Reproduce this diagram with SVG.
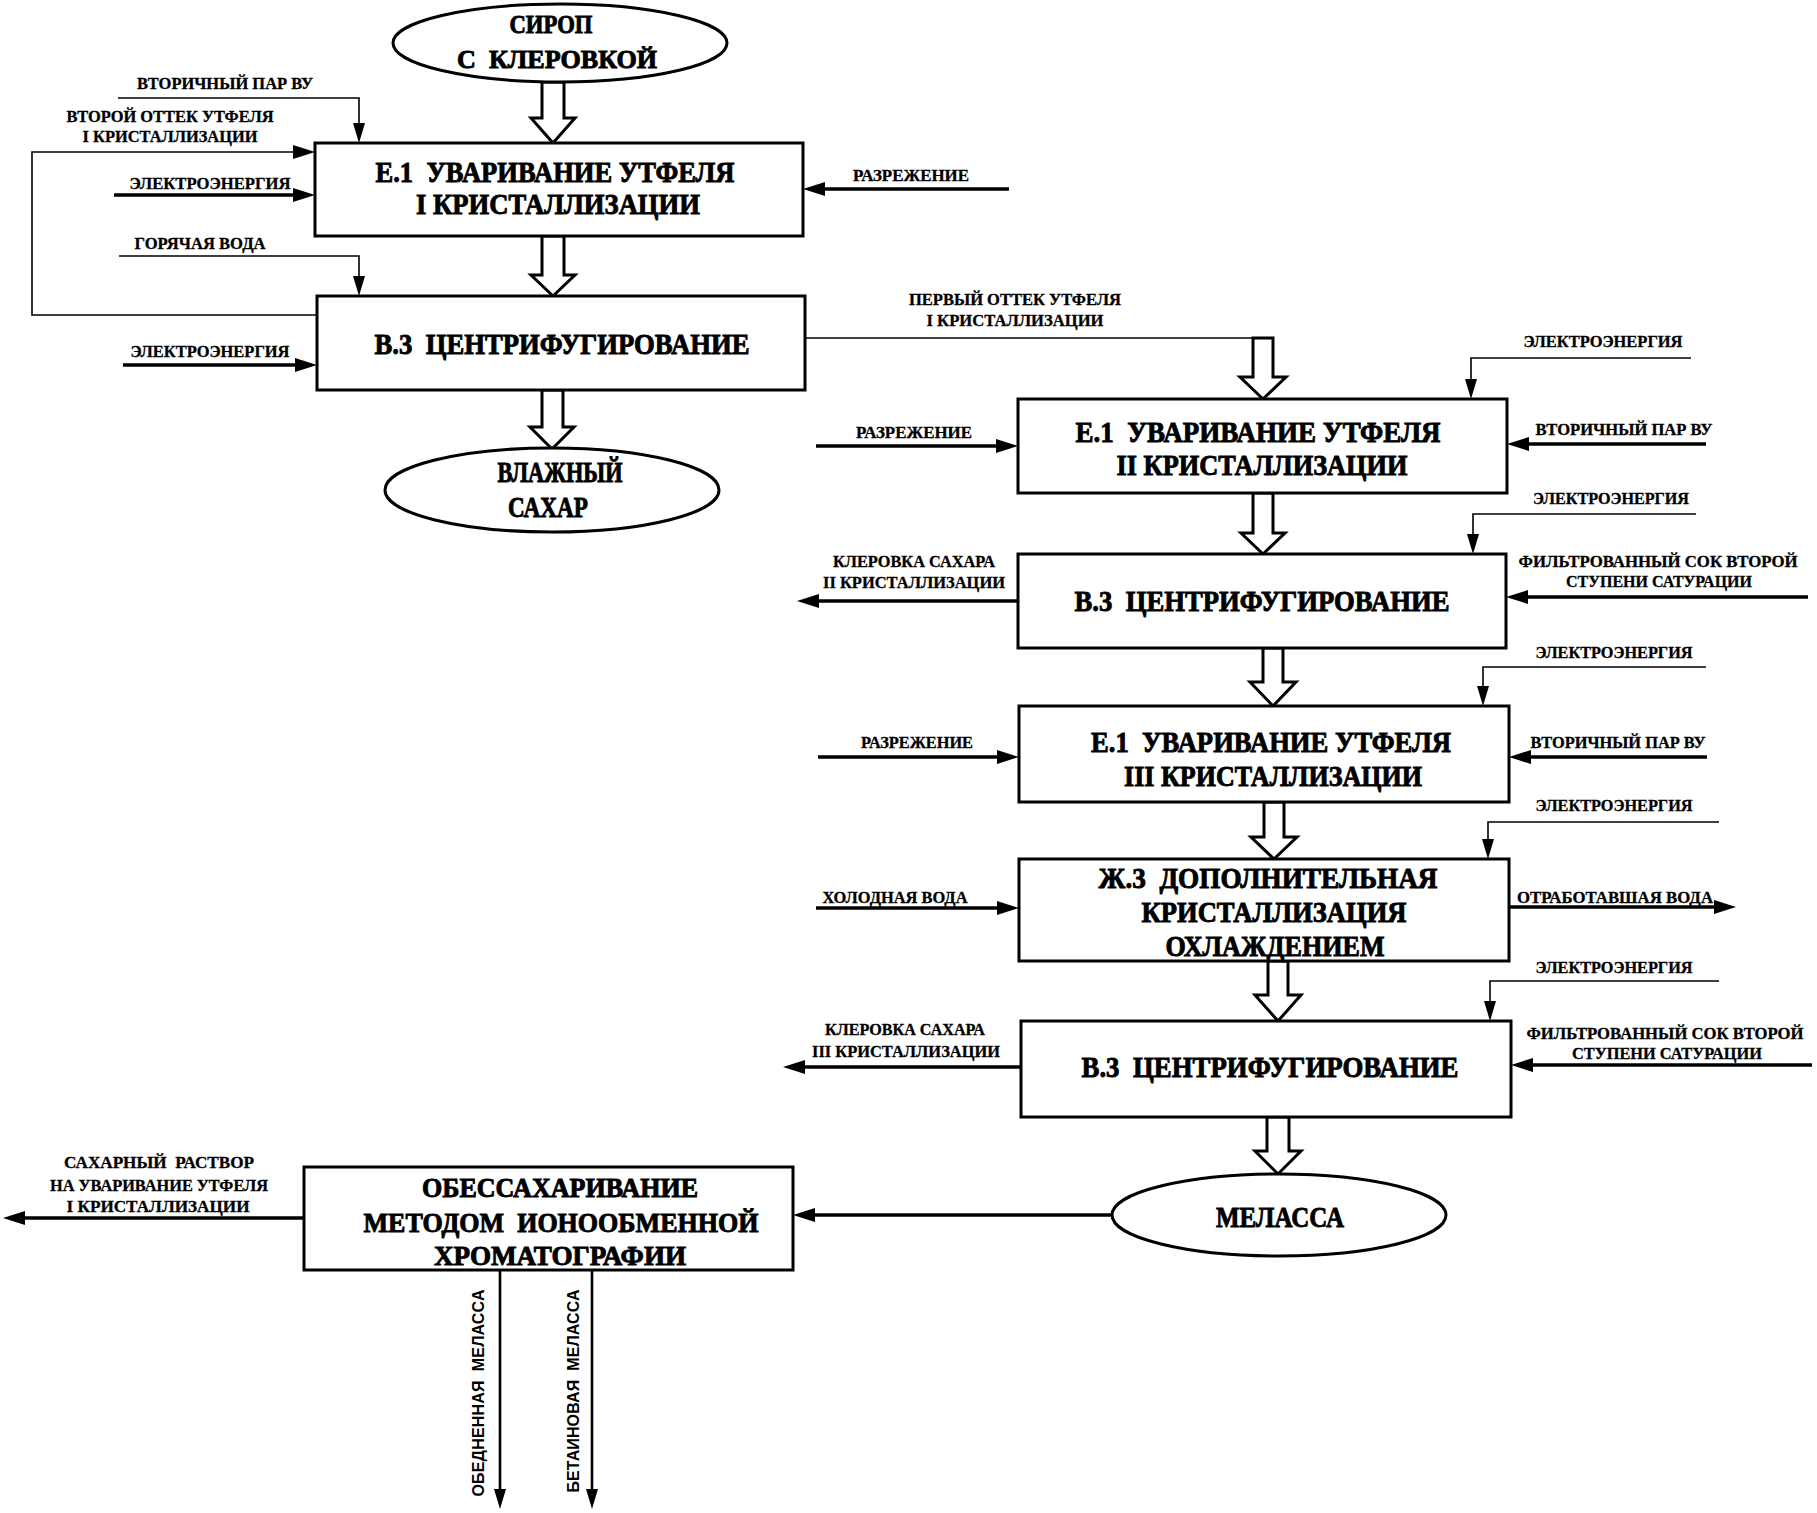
<svg xmlns="http://www.w3.org/2000/svg" width="1817" height="1513" viewBox="0 0 1817 1513" xml:space="preserve">
<style>
.box{fill:#fff;stroke:#000;stroke-width:3}
.big{font-family:"Liberation Serif","DejaVu Serif",serif;font-weight:bold;font-size:29px;text-anchor:middle;fill:#000;stroke:#000;stroke-width:0.9;white-space:pre}
.lbl{font-family:"Liberation Serif","DejaVu Serif",serif;font-weight:bold;font-size:16px;text-anchor:middle;fill:#000;stroke:#000;stroke-width:0.3;white-space:pre}
.rot{font-family:"Liberation Sans","DejaVu Sans",sans-serif;font-weight:bold;font-size:16px;text-anchor:middle;fill:#000;white-space:pre}
.thin{fill:none;stroke:#000;stroke-width:1.6}
.thick{fill:none;stroke:#000;stroke-width:3.5}
.hollow{fill:#fff;stroke:#000;stroke-width:3;stroke-linejoin:miter}
</style>
<defs>
<marker id="ah" viewBox="0 0 22 14" refX="14" refY="7" markerWidth="22" markerHeight="14" markerUnits="userSpaceOnUse" orient="auto"><path d="M0,0 L22,7 L0,14 z" fill="#000"/></marker>
<marker id="ahs" viewBox="0 0 20 12" refX="12" refY="6" markerWidth="20" markerHeight="12" markerUnits="userSpaceOnUse" orient="auto"><path d="M0,0 L20,6 L0,12 z" fill="#000"/></marker>
</defs>
<rect x="0" y="0" width="1817" height="1513" fill="#fff"/>
<g id="connectors">
<path class="hollow" d="M542,82 V118 H531 L553,143 L575,118 H564 V82 Z"/>
<path class="hollow" d="M542,236 V275 H531 L553,296 L575,275 H564 V236 Z"/>
<path class="hollow" d="M542,390 V427 H530 L552,449 L574,427 H563 V390 Z"/>
<path class="thin" d="M118,98 H359 V135" marker-end="url(#ahs)"/>
<path class="thin" d="M317,315 H32 V152 H307" marker-end="url(#ah)"/>
<path class="thick" d="M114,195 H307" marker-end="url(#ah)"/>
<path class="thin" d="M119,256 H359 V288" marker-end="url(#ahs)"/>
<path class="thick" d="M123,365 H309" marker-end="url(#ah)"/>
<path class="thick" d="M1009,189 H811" marker-end="url(#ah)"/>
<path class="thin" d="M805,338 H1253"/>
<path class="hollow" d="M1253,338 V377 H1240 L1263,399 L1286,377 H1273 V338 Z"/>
<path class="thin" d="M1691,358 H1471 V391" marker-end="url(#ahs)"/>
<path class="thick" d="M816,446 H1010" marker-end="url(#ah)"/>
<path class="thick" d="M1706,444 H1515" marker-end="url(#ah)"/>
<path class="hollow" d="M1253,493 V533 H1241 L1263,554 L1285,533 H1273 V493 Z"/>
<path class="thin" d="M1696,514 H1473 V546" marker-end="url(#ahs)"/>
<path class="thick" d="M1808,597 H1514" marker-end="url(#ah)"/>
<path class="thick" d="M1018,601 H805" marker-end="url(#ah)"/>
<path class="hollow" d="M1263,648 V682 H1250 L1273,706 L1296,682 H1283 V648 Z"/>
<path class="thin" d="M1706,667 H1483 V698" marker-end="url(#ahs)"/>
<path class="thick" d="M818,757 H1011" marker-end="url(#ah)"/>
<path class="thick" d="M1707,757 H1517" marker-end="url(#ah)"/>
<path class="hollow" d="M1264,802 V837 H1251 L1274,859 L1297,837 H1284 V802 Z"/>
<path class="thin" d="M1719,822 H1488 V851" marker-end="url(#ahs)"/>
<path class="thick" d="M816,908 H1011" marker-end="url(#ah)"/>
<path class="thick" d="M1509,907 H1728" marker-end="url(#ah)"/>
<path class="hollow" d="M1268,961 V995 H1255 L1278,1021 L1301,995 H1288 V961 Z"/>
<path class="thin" d="M1719,981 H1490 V1013" marker-end="url(#ahs)"/>
<path class="thick" d="M1812,1065 H1519" marker-end="url(#ah)"/>
<path class="thick" d="M1021,1067 H791" marker-end="url(#ah)"/>
<path class="hollow" d="M1267,1117 V1151 H1255 L1278,1174 L1301,1151 H1289 V1117 Z"/>
<path class="thick" d="M1112,1215 H801" marker-end="url(#ah)"/>
<path class="thick" d="M304,1218 H11" marker-end="url(#ah)"/>
<path class="thick" d="M500,1270 V1501" style="stroke-width:2.6" marker-end="url(#ahs)"/>
<path class="thick" d="M592,1270 V1501" style="stroke-width:2.6" marker-end="url(#ahs)"/>
</g>
<g id="labels">
<text class="lbl" x="225" y="89" textLength="176" lengthAdjust="spacingAndGlyphs">ВТОРИЧНЫЙ ПАР ВУ</text>
<text class="lbl" x="170" y="122" textLength="207" lengthAdjust="spacingAndGlyphs">ВТОРОЙ ОТТЕК УТФЕЛЯ</text>
<text class="lbl" x="170" y="142" textLength="175" lengthAdjust="spacingAndGlyphs">I КРИСТАЛЛИЗАЦИИ</text>
<text class="lbl" x="210" y="189" textLength="161" lengthAdjust="spacingAndGlyphs">ЭЛЕКТРОЭНЕРГИЯ</text>
<text class="lbl" x="200" y="249" textLength="131" lengthAdjust="spacingAndGlyphs">ГОРЯЧАЯ ВОДА</text>
<text class="lbl" x="210" y="357" textLength="159" lengthAdjust="spacingAndGlyphs">ЭЛЕКТРОЭНЕРГИЯ</text>
<text class="lbl" x="911" y="181" textLength="116" lengthAdjust="spacingAndGlyphs">РАЗРЕЖЕНИЕ</text>
<text class="lbl" x="1015" y="305" textLength="212" lengthAdjust="spacingAndGlyphs">ПЕРВЫЙ ОТТЕК УТФЕЛЯ</text>
<text class="lbl" x="1015" y="326" textLength="177" lengthAdjust="spacingAndGlyphs">I КРИСТАЛЛИЗАЦИИ</text>
<text class="lbl" x="1603" y="347" textLength="159" lengthAdjust="spacingAndGlyphs">ЭЛЕКТРОЭНЕРГИЯ</text>
<text class="lbl" x="914" y="438" textLength="116" lengthAdjust="spacingAndGlyphs">РАЗРЕЖЕНИЕ</text>
<text class="lbl" x="1624" y="435" textLength="177" lengthAdjust="spacingAndGlyphs">ВТОРИЧНЫЙ ПАР ВУ</text>
<text class="lbl" x="1611" y="504" textLength="156" lengthAdjust="spacingAndGlyphs">ЭЛЕКТРОЭНЕРГИЯ</text>
<text class="lbl" x="1658" y="567" textLength="279" lengthAdjust="spacingAndGlyphs">ФИЛЬТРОВАННЫЙ СОК ВТОРОЙ</text>
<text class="lbl" x="1659" y="587" textLength="186" lengthAdjust="spacingAndGlyphs">СТУПЕНИ САТУРАЦИИ</text>
<text class="lbl" x="914" y="567" textLength="162" lengthAdjust="spacingAndGlyphs">КЛЕРОВКА САХАРА</text>
<text class="lbl" x="914" y="588" textLength="182" lengthAdjust="spacingAndGlyphs">II КРИСТАЛЛИЗАЦИИ</text>
<text class="lbl" x="1614" y="658" textLength="157" lengthAdjust="spacingAndGlyphs">ЭЛЕКТРОЭНЕРГИЯ</text>
<text class="lbl" x="917" y="748" textLength="112" lengthAdjust="spacingAndGlyphs">РАЗРЕЖЕНИЕ</text>
<text class="lbl" x="1618" y="748" textLength="175" lengthAdjust="spacingAndGlyphs">ВТОРИЧНЫЙ ПАР ВУ</text>
<text class="lbl" x="1614" y="811" textLength="157" lengthAdjust="spacingAndGlyphs">ЭЛЕКТРОЭНЕРГИЯ</text>
<text class="lbl" x="895" y="903" textLength="145" lengthAdjust="spacingAndGlyphs">ХОЛОДНАЯ ВОДА</text>
<text class="lbl" x="1615" y="903" textLength="196" lengthAdjust="spacingAndGlyphs">ОТРАБОТАВШАЯ ВОДА</text>
<text class="lbl" x="1614" y="973" textLength="157" lengthAdjust="spacingAndGlyphs">ЭЛЕКТРОЭНЕРГИЯ</text>
<text class="lbl" x="1665" y="1039" textLength="277" lengthAdjust="spacingAndGlyphs">ФИЛЬТРОВАННЫЙ СОК ВТОРОЙ</text>
<text class="lbl" x="1667" y="1059" textLength="190" lengthAdjust="spacingAndGlyphs">СТУПЕНИ САТУРАЦИИ</text>
<text class="lbl" x="905" y="1035" textLength="160" lengthAdjust="spacingAndGlyphs">КЛЕРОВКА САХАРА</text>
<text class="lbl" x="906" y="1057" textLength="188" lengthAdjust="spacingAndGlyphs">III КРИСТАЛЛИЗАЦИИ</text>
<text class="lbl" x="159" y="1168" textLength="190" lengthAdjust="spacingAndGlyphs">САХАРНЫЙ  РАСТВОР</text>
<text class="lbl" x="159" y="1191" textLength="218" lengthAdjust="spacingAndGlyphs">НА УВАРИВАНИЕ УТФЕЛЯ</text>
<text class="lbl" x="158" y="1212" textLength="183" lengthAdjust="spacingAndGlyphs">I КРИСТАЛЛИЗАЦИИ</text>
<text class="rot" transform="translate(477,1393) rotate(-90)" x="0" y="7" textLength="207" lengthAdjust="spacing">ОБЕДНЕННАЯ  МЕЛАССА</text>
<text class="rot" transform="translate(572,1391) rotate(-90)" x="0" y="7" textLength="203" lengthAdjust="spacing">БЕТАИНОВАЯ  МЕЛАССА</text>
</g>
<g id="node-sirop">
<ellipse class="box" cx="560" cy="43" rx="167" ry="39"/>
<text class="big" style="font-size:26px" x="551" y="33" textLength="83" lengthAdjust="spacingAndGlyphs">СИРОП</text>
<text class="big" style="font-size:26px" x="557" y="68" textLength="200" lengthAdjust="spacingAndGlyphs">С  КЛЕРОВКОЙ</text>
</g>
<g id="node-e1-1">
<rect class="box" x="315" y="143" width="488" height="93"/>
<text class="big" x="555" y="182" textLength="359" lengthAdjust="spacingAndGlyphs">Е.1  УВАРИВАНИЕ УТФЕЛЯ</text>
<text class="big" x="558" y="214" textLength="284" lengthAdjust="spacingAndGlyphs">I КРИСТАЛЛИЗАЦИИ</text>
</g>
<g id="node-b3-1">
<rect class="box" x="317" y="296" width="488" height="94"/>
<text class="big" x="562" y="354" textLength="375" lengthAdjust="spacingAndGlyphs">В.3  ЦЕНТРИФУГИРОВАНИЕ</text>
</g>
<g id="node-sugar">
<ellipse class="box" cx="552" cy="490" rx="167" ry="42"/>
<text class="big" x="560" y="482" textLength="125" lengthAdjust="spacingAndGlyphs">ВЛАЖНЫЙ</text>
<text class="big" x="548" y="517" textLength="80" lengthAdjust="spacingAndGlyphs">САХАР</text>
</g>
<g id="node-e1-2">
<rect class="box" x="1018" y="399" width="489" height="94"/>
<text class="big" x="1258" y="442" textLength="365" lengthAdjust="spacingAndGlyphs">Е.1  УВАРИВАНИЕ УТФЕЛЯ</text>
<text class="big" x="1262" y="475" textLength="291" lengthAdjust="spacingAndGlyphs">II КРИСТАЛЛИЗАЦИИ</text>
</g>
<g id="node-b3-2">
<rect class="box" x="1018" y="554" width="488" height="94"/>
<text class="big" x="1262" y="611" textLength="375" lengthAdjust="spacingAndGlyphs">В.3  ЦЕНТРИФУГИРОВАНИЕ</text>
</g>
<g id="node-e1-3">
<rect class="box" x="1019" y="706" width="490" height="96"/>
<text class="big" x="1271" y="752" textLength="360" lengthAdjust="spacingAndGlyphs">Е.1  УВАРИВАНИЕ УТФЕЛЯ</text>
<text class="big" x="1273" y="786" textLength="298" lengthAdjust="spacingAndGlyphs">III КРИСТАЛЛИЗАЦИИ</text>
</g>
<g id="node-zh3">
<rect class="box" x="1019" y="859" width="490" height="102"/>
<text class="big" x="1268" y="888" textLength="339" lengthAdjust="spacingAndGlyphs">Ж.3  ДОПОЛНИТЕЛЬНАЯ</text>
<text class="big" x="1274" y="922" textLength="265" lengthAdjust="spacingAndGlyphs">КРИСТАЛЛИЗАЦИЯ</text>
<text class="big" x="1275" y="956" textLength="219" lengthAdjust="spacingAndGlyphs">ОХЛАЖДЕНИЕМ</text>
</g>
<g id="node-b3-3">
<rect class="box" x="1021" y="1021" width="490" height="96"/>
<text class="big" x="1270" y="1077" textLength="377" lengthAdjust="spacingAndGlyphs">В.3  ЦЕНТРИФУГИРОВАНИЕ</text>
</g>
<g id="node-melassa">
<ellipse class="box" cx="1279" cy="1215" rx="167" ry="41"/>
<text class="big" style="font-size:30px" x="1280" y="1227" textLength="128" lengthAdjust="spacingAndGlyphs">МЕЛАССА</text>
</g>
<g id="node-desugar">
<rect class="box" x="304" y="1167" width="489" height="103"/>
<text class="big" style="font-size:27px" x="560" y="1197" textLength="276" lengthAdjust="spacingAndGlyphs">ОБЕССАХАРИВАНИЕ</text>
<text class="big" style="font-size:27px" x="561" y="1232" textLength="395" lengthAdjust="spacingAndGlyphs">МЕТОДОМ  ИОНООБМЕННОЙ</text>
<text class="big" style="font-size:27px" x="560" y="1265" textLength="252" lengthAdjust="spacingAndGlyphs">ХРОМАТОГРАФИИ</text>
</g>
</svg>
